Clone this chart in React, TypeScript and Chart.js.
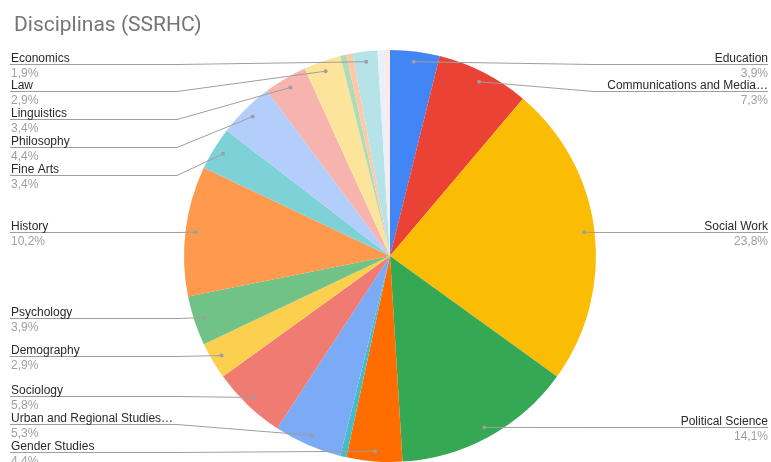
import React, { useEffect, useRef } from "react";
import { Chart, registerables } from "chart.js";

Chart.register(...registerables);

const TITLE = "Disciplinas (SSRHC)";

const categories = [
  "Education",
  "Communications and Media…",
  "Social Work",
  "Political Science",
  "Gender Studies",
  "Other A",
  "Urban and Regional Studies…",
  "Sociology",
  "Demography",
  "Psychology",
  "History",
  "Fine Arts",
  "Philosophy",
  "Linguistics",
  "Law",
  "Other B",
  "Other C",
  "Economics",
  "Other D",
  "Other E",
];

const counts = [8, 15, 49, 29, 9, 1, 11, 12, 6, 8, 21, 7, 9, 7, 6, 1, 1, 4, 1, 1];

const sliceColors = [
  "#4285F4",
  "#EA4335",
  "#FBBC04",
  "#34A853",
  "#FF6D01",
  "#46BDC6",
  "#7BAAF7",
  "#F07B72",
  "#FCD04F",
  "#71C287",
  "#FF994D",
  "#7ED1D7",
  "#B3CEFB",
  "#F7B4AE",
  "#FDE49B",
  "#AEDCBA",
  "#FFC8A6",
  "#B5E3E8",
  "#E8F0FE",
  "#FCE8E6",
];

const W = 771;
const H = 462;

const labelPlugin = {
  id: "sheetLabels",
  afterDraw(chart: any) {
    const ctx = chart.ctx;
    const meta = chart.getDatasetMeta(0);
    const total = counts.reduce((a, b) => a + b, 0);
    ctx.save();
    // title
    ctx.font = "21px Roboto, 'Liberation Sans', Arial, sans-serif";
    ctx.fillStyle = "#757575";
    ctx.textBaseline = "alphabetic";
    ctx.textAlign = "left";
    ctx.fillText(TITLE, 14, 31);

    const items: any[] = [];
    meta.data.forEach((arc: any, i: number) => {
      const pct = (counts[i] / total) * 100;
      if (pct < 1.5) return;
      const mid = (arc.startAngle + arc.endAngle) / 2;
      const r = arc.outerRadius * 0.95;
      const px = arc.x + Math.cos(mid) * r;
      const py = arc.y + Math.sin(mid) * r;
      items.push({
        i,
        px,
        py,
        left: Math.cos(mid) < 0,
        y: py,
        text: categories[i],
        val: pct.toFixed(1).replace(".", ",") + "%",
      });
    });

    const gap = 27.8;
    const minY = 63.5;
    const maxY = H - 10;
    [true, false].forEach((side) => {
      const arr = items.filter((it) => it.left === side).sort((a, b) => a.py - b.py);
      for (let k = 0; k < arr.length; k++) {
        const lo = k === 0 ? minY : arr[k - 1].y + gap;
        arr[k].y = Math.max(arr[k].py, lo);
      }
      for (let k = arr.length - 1; k >= 0; k--) {
        const hi = k === arr.length - 1 ? maxY : arr[k + 1].y - gap;
        arr[k].y = Math.min(arr[k].y, hi);
      }
    });

    items.forEach((it) => {
      const ly = Math.round(it.y) + 0.5;
      const kinkX = it.left ? 177 : 594;
      const edgeX = it.left ? 10 : 768;
      ctx.strokeStyle = "#9e9e9e";
      ctx.lineWidth = 1;
      ctx.beginPath();
      ctx.moveTo(it.px, it.py);
      ctx.lineTo(kinkX, ly);
      ctx.lineTo(edgeX, ly);
      ctx.stroke();
      ctx.fillStyle = "#9e9e9e";
      ctx.beginPath();
      ctx.arc(it.px, it.py, 2, 0, Math.PI * 2);
      ctx.fill();

      ctx.font = "12px 'Liberation Sans', Arial, sans-serif";
      ctx.textAlign = it.left ? "left" : "right";
      ctx.textBaseline = "alphabetic";
      ctx.fillStyle = "#2a2a2a";
      ctx.fillText(it.text, it.left ? 11 : 768, ly - 3);
      ctx.fillStyle = "#a0a0a0";
      ctx.fillText(it.val, it.left ? 11 : 768, ly + 12);
    });
    ctx.restore();
  },
};

export default function App() {
  const ref = useRef<HTMLCanvasElement | null>(null);
  useEffect(() => {
    if (!ref.current) return;
    const chart = new Chart(ref.current, {
      type: "pie",
      data: {
        labels: categories,
        datasets: [
          {
            data: counts,
            backgroundColor: sliceColors,
            borderWidth: 0,
            hoverOffset: 0,
          },
        ],
      },
      options: {
        responsive: false,
        animation: false,
        radius: 206,
        layout: { padding: { top: 50, bottom: 0, left: 104, right: 95 } },
        plugins: {
          legend: { display: false },
          tooltip: { enabled: false },
          title: { display: false },
        },
        events: [],
      } as any,
      plugins: [labelPlugin],
    });
    return () => chart.destroy();
  }, []);
  return (
    <div style={{ position: "absolute", left: 0, top: 0, width: W, height: H, background: "#fff" }}>
      <canvas ref={ref} width={W} height={H} style={{ display: "block", width: W, height: H }} />
    </div>
  );
}
